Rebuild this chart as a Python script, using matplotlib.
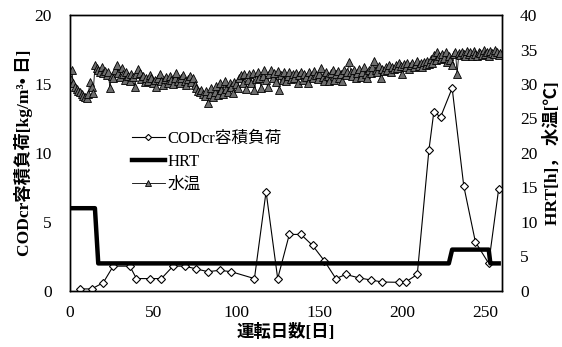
import matplotlib
matplotlib.use('Agg')
import matplotlib.pyplot as plt

plt.rcParams['font.family'] = ['Liberation Serif', 'Noto Sans CJK JP', 'DejaVu Sans']
plt.rcParams['font.size'] = 12

# CODcr容積負荷 [kg/m3・日]
cod_day = [6, 13, 20, 26, 36, 40, 48, 55, 62, 69, 76, 83, 90, 97, 111, 118, 125,
           132, 139, 146, 153, 160, 166, 174, 181, 188, 198, 202, 209, 216, 219,
           223, 230, 237, 244, 252, 258]
cod_load = [0.15, 0.15, 0.6, 1.8, 1.8, 0.9, 0.9, 0.9, 1.8, 1.8, 1.6, 1.4, 1.5, 1.4,
            0.9, 7.2, 0.9, 4.1, 4.1, 3.3, 2.2, 0.9, 1.2, 0.95, 0.8, 0.65, 0.63,
            0.65, 1.2, 10.2, 13.0, 12.6, 14.7, 7.6, 3.55, 2.0, 7.4]

# HRT [h]
hrt_day = [0, 15, 17, 228, 230, 252, 253, 258]
hrt = [12, 12, 4, 4, 6, 6, 4, 4]

# 水温 [℃] (daily)
temp = [30.8, 32.0, 30.2, 29.6, 29.3, 29.0, 28.8, 28.6, 28.3, 28.1,
        28.0, 28.6, 30.3, 29.6, 28.7, 32.8, 32.3, 32.0, 31.7, 32.4,
        31.6, 31.9, 31.3, 31.7, 29.4, 31.2, 30.9, 32.1, 32.8, 31.6,
        31.0, 32.3, 31.4, 30.6, 31.8, 31.2, 30.4, 31.5, 31.0, 29.6,
        31.4, 32.2, 31.6, 30.7, 31.2, 30.3, 30.9, 30.5, 31.3, 30.8,
        30.1, 30.6, 29.6, 30.9, 31.4, 30.4, 29.8, 30.7, 31.0, 30.2,
        31.2, 30.6, 30.0, 30.9, 31.6, 30.5, 30.1, 30.8, 31.3, 30.4,
        29.9, 30.7, 31.1, 30.3, 30.9, 29.9, 29.4, 29.0, 28.8, 29.2,
        28.6, 28.3, 29.0, 27.2, 28.5, 29.4, 28.1, 28.8, 29.7, 28.4,
        30.2, 29.1, 28.6, 30.4, 29.3, 28.8, 30.1, 29.6, 28.7, 30.3,
        30.0, 29.4, 30.8, 31.3, 30.2, 31.5, 29.3, 30.6, 31.4, 30.1,
        31.6, 29.1, 30.7, 31.7, 30.9, 29.4, 31.2, 32.0, 30.6, 29.5,
        31.4, 32.1, 30.8, 31.6, 30.3, 31.9, 29.2, 31.3, 30.6, 31.7,
        30.4, 31.1, 31.8, 30.7, 31.5, 30.9, 31.6, 30.2, 31.3, 31.8,
        30.6, 31.4, 31.0, 30.1, 31.7, 31.2, 30.8, 31.9, 31.3, 30.7,
        31.5, 32.3, 31.0, 30.5, 31.8, 31.2, 30.4, 31.6, 32.0, 30.6,
        31.4, 31.9, 30.8, 31.5, 30.4, 32.0, 31.3, 31.7, 33.2, 31.8,
        31.2, 32.1, 30.9, 31.6, 32.2, 31.0, 31.8, 32.4, 31.5, 30.8,
        32.0, 31.6, 32.5, 33.4, 32.1, 31.7, 32.6, 30.8, 32.2, 31.9,
        32.4, 32.0, 32.7, 31.8, 32.5, 32.2, 32.8, 32.3, 33.1, 32.6,
        31.4, 32.9, 32.4, 33.0, 32.2, 32.7, 33.1, 32.5, 32.9, 33.3,
        32.6, 33.0, 32.4, 33.2, 32.8, 33.4, 32.9, 33.6, 33.1, 34.2,
        33.5, 34.6, 34.1, 33.6, 34.4, 33.8, 34.7, 33.2, 34.0, 33.5,
        32.8, 34.3, 34.6, 31.4, 34.5, 34.2, 34.7, 34.4, 34.0, 34.8,
        34.3, 34.6, 34.1, 34.8, 34.4, 34.0, 34.7, 34.5, 34.2, 34.9,
        34.4, 34.7, 34.1, 34.8, 34.5, 34.3, 34.9, 34.6, 34.2, 34.5]
temp_day = list(range(len(temp)))

fig = plt.figure(figsize=(5.62, 3.47), dpi=100)
ax = fig.add_axes([70 / 562, 1 - 291 / 347, 432 / 562, 276 / 347])
ax2 = ax.twinx()

l1, = ax.plot(cod_day, cod_load, color='black', lw=0.8, marker='D', ms=4.5,
              mfc='white', mec='black', mew=0.8, label='CODcr容積負荷', zorder=3)
l2, = ax2.plot(hrt_day, hrt, color='black', lw=3.2, label='HRT', zorder=3)
l3, = ax2.plot(temp_day, temp, color='black', lw=0.6, marker='^', ms=5.8,
               mfc='#6e6e6e', mec='black', mew=0.6, label='水温', zorder=2)

ax.set_xlim(0, 260)
ax.set_ylim(0, 20)
ax2.set_ylim(0, 40)
ax.set_xticks([0, 50, 100, 150, 200, 250])
ax.set_yticks([0, 5, 10, 15, 20])
ax2.set_yticks(range(0, 41, 5))
ax.tick_params(axis='both', length=0, labelsize=12.5)
ax.tick_params(axis='y', pad=13)
ax.tick_params(axis='x', pad=10)
ax2.tick_params(axis='y', length=0, labelsize=12.5, pad=13)
for a in (ax, ax2):
    for s in a.spines.values():
        s.set_linewidth(1.0)

ax.set_xlabel('運転日数[日]', fontweight='bold', fontsize=12.5, labelpad=2)
ax.set_ylabel('CODcr容積負荷[kg/m³• 日]', fontweight='bold', fontsize=12.5, labelpad=1)
ax2.set_ylabel('HRT[h]， 水温[℃]', fontweight='bold', fontsize=12.5, labelpad=4)

fig.legend(handles=[l1, l2, l3], loc='upper left',
           bbox_to_anchor=(120 / 562, 1 - 119 / 347), frameon=False,
           fontsize=12, handlelength=2.0, handletextpad=0.15, labelspacing=0.42,
           borderpad=0.2, markerscale=0.7)

fig.savefig('out.png', dpi=100)
